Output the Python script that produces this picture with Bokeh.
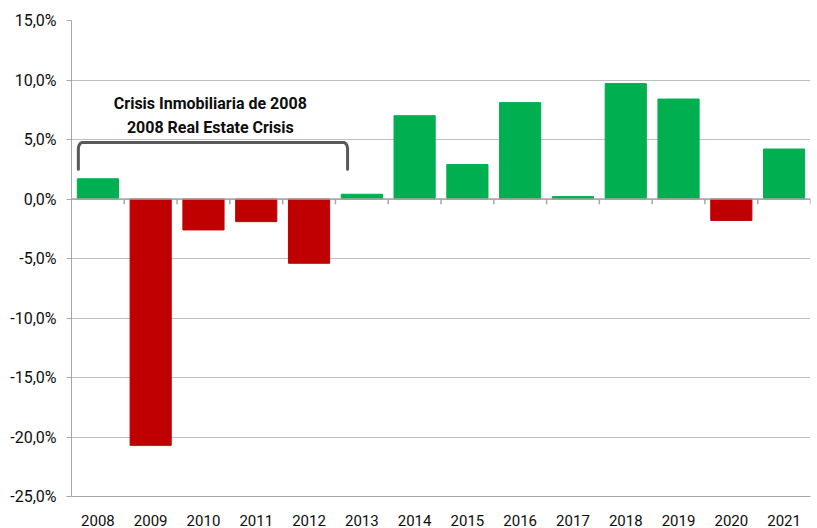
import numpy as np
from bokeh.plotting import figure
from bokeh.models import FixedTicker, Range1d, Span
from bokeh.core.properties import value
from bokeh.embed import file_html
from bokeh.resources import INLINE

years = ["2008", "2009", "2010", "2011", "2012", "2013", "2014",
         "2015", "2016", "2017", "2018", "2019", "2020", "2021"]
growth = [1.7, -20.7, -2.6, -1.9, -5.4, 0.4, 7.0,
          2.9, 8.1, 0.2, 9.7, 8.4, -1.8, 4.2]
y_ticks = [-25, -20, -15, -10, -5, 0, 5, 10, 15]
y_tick_labels = ["-25,0%", "-20,0%", "-15,0%", "-10,0%", "-5,0%",
                 "0,0%", "5,0%", "10,0%", "15,0%"]
annotation_lines = ["Crisis Inmobiliaria de 2008", "2008 Real Estate Crisis"]

GREEN = "#00B050"
RED = "#C00000"
FONT = "Roboto"

n = len(years)
xc = np.arange(n) + 0.5
colors = [GREEN if v >= 0 else RED for v in growth]

p = figure(width=816, height=528, output_backend="svg", toolbar_location=None,
           x_range=Range1d(0, n), y_range=Range1d(-25, 15),
           min_border_left=71, min_border_right=6, min_border_top=20,
           min_border_bottom=28)
p.outline_line_color = None
p.background_fill_color = "white"

p.vbar(x=xc, top=growth, bottom=0, width=0.78, color=colors, line_color=colors)

# zero line with category-boundary ticks
p.add_layout(Span(location=0, dimension="width", line_color="#a6a6a6", line_width=1.5))
bounds = np.arange(1, n + 1)
p.segment(x0=bounds, y0=0, x1=bounds, y1=-0.45, line_color="#a6a6a6", line_width=1.5)

# bracket over the crisis years
bx0, bx1 = 0.13, 5.23
by0, by1 = 2.5, 4.75
rx, ry = 0.08, 0.55
t = np.linspace(0, np.pi / 2, 12)
left = list(zip(bx0 + rx - rx * np.cos(t), by1 - ry + ry * np.sin(t)))
right = list(zip(bx1 - rx + rx * np.sin(t), by1 - ry + ry * np.cos(t)))
path = [(bx0, by0)] + left + right + [(bx1, by0)]
p.line([q[0] for q in path], [q[1] for q in path], line_color="#595959", line_width=3,
       line_join="round", line_cap="round")

p.text(x=[2.63, 2.63], y=[8.0, 6.05], text=annotation_lines,
       text_font=value(FONT), text_font_style="bold", text_font_size="16px",
       text_align="center", text_baseline="middle", text_color="#0d0d0d")

# axes
p.xaxis.ticker = FixedTicker(ticks=list(xc))
p.xaxis.major_label_overrides = {float(x): y for x, y in zip(xc, years)}
p.xaxis.axis_line_color = "#a6a6a6"
p.xaxis.major_tick_line_color = None
p.xaxis.minor_tick_line_color = None
p.xaxis.major_label_standoff = 12
p.xaxis.major_label_text_font = FONT
p.xaxis.major_label_text_font_size = "15px"
p.xaxis.major_label_text_color = "#0d0d0d"

p.yaxis.ticker = FixedTicker(ticks=y_ticks)
p.yaxis.major_label_overrides = {t_: l for t_, l in zip(y_ticks, y_tick_labels)}
p.yaxis.axis_line_color = "#a6a6a6"
p.yaxis.major_tick_line_color = "#a6a6a6"
p.yaxis.major_tick_out = 5
p.yaxis.major_tick_in = 0
p.yaxis.minor_tick_line_color = None
p.yaxis.major_label_standoff = 10
p.yaxis.major_label_text_font = FONT
p.yaxis.major_label_text_font_size = "16px"
p.yaxis.major_label_text_color = "#0d0d0d"

p.xgrid.grid_line_color = None
p.ygrid.grid_line_color = "#bfbfbf"
p.ygrid.grid_line_width = 1

open("out.html", "w").write(file_html(p, INLINE))
